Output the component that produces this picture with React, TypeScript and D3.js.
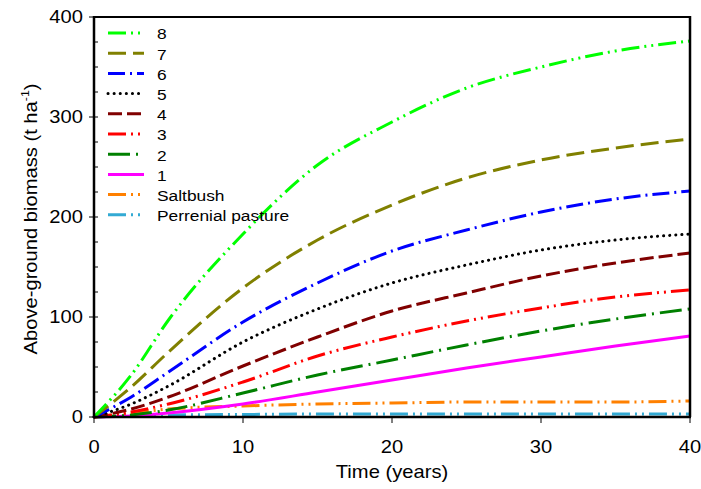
import React from "react";
import * as d3 from "d3";

// time axis (years)
const years = [0, 2.5, 5, 10, 15, 20, 25, 30, 35, 40];

// above-ground biomass (t/ha) per scenario
const s8 = [0, 42, 97, 183, 252, 295, 329, 350, 366, 376];
const s7 = [0, 30, 65, 129, 177, 212, 239, 257, 269, 278];
const s6 = [0, 20, 45, 95, 134, 166, 187, 205, 218, 226];
const s5 = [0, 13, 31, 75, 108, 134, 152, 167, 177, 183];
const s4 = [0, 8, 20, 51, 80, 106, 124, 141, 154, 164];
const s3 = [0, 5, 13, 35, 61, 80, 96, 109, 120, 127];
const s2 = [0, 2, 7, 24, 42, 57, 72, 86, 98, 108];
const s1 = [0, 1, 4, 13, 25, 37, 49, 60, 71, 81];
const saltbush = [0, 4, 8, 11, 13, 14, 15, 15, 15, 16];
const perennial = [0, 1.5, 2, 2.5, 3, 3, 3, 3, 3, 3];

const seriesNames = ["8", "7", "6", "5", "4", "3", "2", "1", "Saltbush", "Perrenial pasture"];
const seriesValues = [s8, s7, s6, s5, s4, s3, s2, s1, saltbush, perennial];

const xTicks = [0, 10, 20, 30, 40];
const yTicks = [0, 100, 200, 300, 400];
const yMinorTicks = d3.range(0, 401, 25);

const colors = ["#00ff00", "#808000", "#0000ff", "#000000", "#800000", "#ff0000", "#008000", "#ff00ff", "#ff8000", "#33aad4"];
const dashes = ["18,5,2,5,2,5", "18,7", "17,5,2,5", "0.1,6", "14,5", "18,5,2,5,2,5", "22,6,2,6", "", "18,5,2,5,2,5", "18,5,2,5,2,5"];

const W = 701, H = 489;
const margin = { left: 94, right: 11, top: 17, bottom: 72 };
const FONT = "Liberation Sans, Arial, sans-serif";
const SX = 1.12; // the original's lettering is a little wider than plain Arial

export default function App() {
  const x = d3.scaleLinear().domain([0, 40]).range([margin.left, W - margin.right]);
  const y = d3.scaleLinear().domain([0, 400]).range([H - margin.bottom, margin.top]);
  const line = d3.line<[number, number]>().x(d => x(d[0])).y(d => y(d[1])).curve(d3.curveMonotoneX);

  const x0 = x(0), x1 = x(40), y0 = y(0), y1 = y(400);

  return (
    <svg width={W} height={H} style={{ position: "absolute", left: 0, top: 0, background: "#fff" }} fontFamily={FONT}>
      {/* curves, drawn bottom series first */}
      {seriesValues.map((vals, i) => ({ vals, i })).reverse().map(({ vals, i }) => (
        <path key={i} d={line(vals.map((v, j) => [years[j], v]) as [number, number][]) || ""}
          fill="none" stroke={colors[i]} strokeWidth={3}
          strokeDasharray={dashes[i] || undefined}
          strokeLinecap={i === 3 ? "round" : "butt"} />
      ))}

      {/* frame */}
      <line x1={x0} x2={x1} y1={y1} y2={y1} stroke="#000" strokeWidth={2} />
      <line x1={x1} x2={x1} y1={y1 - 1} y2={y0} stroke="#000" strokeWidth={2.5} />
      <line x1={x0} x2={x0} y1={y1 - 1} y2={y0 + 1} stroke="#000" strokeWidth={2.5} />
      <line x1={x0 - 1} x2={x1 + 1} y1={y0} y2={y0} stroke="#000" strokeWidth={2.5} />

      {/* y ticks */}
      {yMinorTicks.map(t => (
        <line key={"ym" + t} x1={x0} x2={x0 + 4} y1={y(t)} y2={y(t)} stroke="#000" strokeWidth={1} />
      ))}
      {yTicks.map(t => (
        <g key={"y" + t}>
          <line x1={x0 - 5} x2={x0} y1={y(t)} y2={y(t)} stroke="#000" strokeWidth={1} />
          <text transform={`translate(${x0 - 11},${y(t)}) scale(${SX},1)`} dy="0.35em" textAnchor="end" fontSize={18} fill="#000">{t}</text>
        </g>
      ))}

      {/* x ticks */}
      {xTicks.map(t => (
        <g key={"x" + t}>
          <line x1={x(t)} x2={x(t)} y1={y0} y2={y0 + 6} stroke="#000" strokeWidth={1} />
          <text transform={`translate(${x(t)},${y0 + 36}) scale(${SX},1)`} textAnchor="middle" fontSize={18} fill="#000">{t}</text>
        </g>
      ))}

      {/* axis titles */}
      <text transform={`translate(${(x0 + x1) / 2},478) scale(${SX},1)`} textAnchor="middle" fontSize={18} fill="#000">Time (years)</text>
      <text transform={`translate(37, ${(y0 + y1) / 2 + 2}) rotate(-90) scale(${SX},1)`} textAnchor="middle" fontSize={18} fill="#000">
        Above-ground biomass (t ha<tspan dy="-8" fontSize={11}>-1</tspan><tspan dy="8">)</tspan>
      </text>

      {/* legend */}
      {seriesNames.map((name, i) => {
        const ly = 33 + i * 20.2;
        return (
          <g key={"lg" + i}>
            <line x1={108} x2={144} y1={ly} y2={ly} stroke={colors[i]} strokeWidth={3}
              strokeDasharray={dashes[i] || undefined} strokeLinecap={i === 3 ? "round" : "butt"} />
            <text transform={`translate(157,${ly + 1}) scale(${SX},1)`} dy="0.35em" fontSize={15.5} fill="#000">{name}</text>
          </g>
        );
      })}
    </svg>
  );
}
